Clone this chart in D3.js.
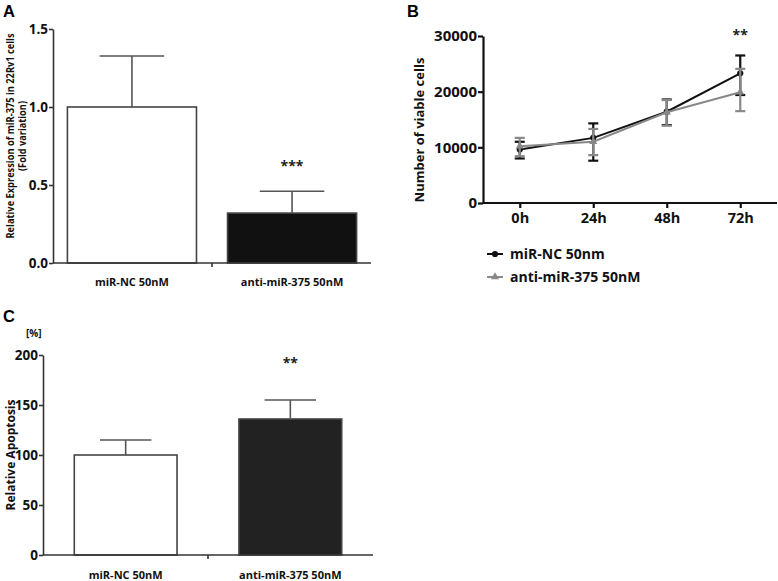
<!DOCTYPE html>
<html><head><meta charset="utf-8">
<script src="https://cdn.jsdelivr.net/npm/d3@7"></script>
<style>body{margin:0;background:#fff}svg{display:block;font-family:"Open Sans",sans-serif}</style>
</head><body>
<svg id="c" width="778" height="581"></svg>
<script>
// Panel A data
const catsA = ["miR-NC 50nM", "anti-miR-375 50nM"];
const meanA = [1.0, 0.32];
const errTopA = [1.327, 0.46];
const ticksA = [0, 0.5, 1.0, 1.5];
// Panel B data
const timesB = ["0h", "24h", "48h", "72h"];
const ncMean = [9600, 11700, 16400, 23300];
const ncLow = [8000, 7600, 14000, 19400];
const ncHigh = [11000, 14300, 18600, 26500];
const antiMean = [10200, 11000, 16300, 19900];
const antiLow = [8400, 8600, 13900, 16500];
const antiHigh = [11700, 13300, 18500, 24100];
const ticksB = [0, 10000, 20000, 30000];
const seriesNames = ["miR-NC 50nm", "anti-miR-375 50nM"];
// Panel C data
const catsC = ["miR-NC 50nM", "anti-miR-375 50nM"];
const meanC = [100, 136];
const errTopC = [115, 155];
const ticksC = [0, 50, 100, 150, 200];

const svg = d3.select("#c");
const axCol = "#333";
const letterFont = '"Liberation Sans",Arial,sans-serif';

function styleAxis(g, w) {
  g.selectAll(".domain").attr("stroke", axCol).attr("stroke-width", w);
  g.selectAll(".tick line").attr("stroke", axCol).attr("stroke-width", w);
  g.selectAll(".tick text").attr("fill", "#111").attr("font-family", '"Open Sans",sans-serif');
}

function barPanel(opt) {
  const g = svg.append("g");
  const y = d3.scaleLinear().domain(opt.ydom).range(opt.yr);
  const x = d3.scaleBand().domain(opt.cats).range(opt.xr).paddingInner(opt.pi).paddingOuter(opt.po);
  g.selectAll("rect.bar").data(opt.cats).join("rect")
    .attr("x", d => x(d)).attr("width", x.bandwidth())
    .attr("y", (d, i) => y(opt.mean[i])).attr("height", (d, i) => y(0) - y(opt.mean[i]))
    .attr("fill", (d, i) => opt.fills[i]).attr("stroke", "#444").attr("stroke-width", 1.6);
  opt.cats.forEach((c, i) => {
    const cx = x(c) + x.bandwidth() / 2, hw = x.bandwidth() / 4;
    g.append("line").attr("x1", cx).attr("x2", cx).attr("y1", y(opt.mean[i])).attr("y2", y(opt.err[i]))
      .attr("stroke", "#555").attr("stroke-width", 1.6);
    g.append("line").attr("x1", cx - hw).attr("x2", cx + hw).attr("y1", y(opt.err[i])).attr("y2", y(opt.err[i]))
      .attr("stroke", "#555").attr("stroke-width", 1.6);
  });
  const ya = g.append("g").attr("transform", `translate(${opt.xr[0]},0)`)
    .call(d3.axisLeft(y).tickValues(opt.ticks).tickFormat(opt.fmt).tickSize(4).tickPadding(1).tickSizeOuter(0));
  ya.selectAll(".tick text").attr("font-size", opt.tfs).attr("font-weight", 700);
  styleAxis(ya, 1.6);
  const xa = g.append("g");
  xa.append("line").attr("x1", opt.xr[0]).attr("x2", opt.xr[1]).attr("y1", y(0)).attr("y2", y(0))
    .attr("stroke", axCol).attr("stroke-width", 1.6);
  const mid = (x(opt.cats[0]) + x.bandwidth() + x(opt.cats[1])) / 2;
  xa.append("line").attr("x1", mid).attr("x2", mid).attr("y1", y(0)).attr("y2", y(0) + 4)
    .attr("stroke", axCol).attr("stroke-width", 1.6);
  opt.cats.forEach(c => {
    xa.append("text").attr("x", x(c) + x.bandwidth() / 2).attr("y", opt.catY).attr("text-anchor", "middle")
      .attr("font-size", 11).attr("font-weight", 700).attr("fill", "#111").text(c);
  });
  g.append("text").attr("x", x(opt.cats[1]) + x.bandwidth() / 2).attr("y", opt.starY).attr("text-anchor", "middle")
    .attr("font-size", 14).attr("font-weight", 700).attr("fill", "#222").text(opt.star);
  return {x, y, g};
}

// Panel A
barPanel({cats: catsA, mean: meanA, err: errTopA, ydom: [0, 1.5], yr: [263, 29], xr: [53, 371],
  pi: 0.194, po: 0.09, ticks: ticksA, fmt: d3.format(".1f"), tfs: 13.5, fills: ["#fff", "#111"],
  catY: 286, starY: 171, star: "***"});
svg.append("text").attr("x", 3).attr("y", 17).attr("font-family", letterFont).attr("font-size", 16.5).attr("font-weight", 700).text("A");
const yl = svg.append("text").attr("transform", "translate(14,136) rotate(-90)").attr("text-anchor", "middle")
  .attr("font-size", 10).attr("font-weight", 700).attr("fill", "#111");
yl.append("tspan").attr("x", 0).attr("dy", 0).attr("textLength", 205).attr("lengthAdjust", "spacingAndGlyphs")
  .text("Relative Expression of miR-375 in 22Rv1 cells");
yl.append("tspan").attr("x", 0).attr("dy", 12).attr("textLength", 70).attr("lengthAdjust", "spacingAndGlyphs")
  .text("(Fold variation)");

// Panel C
barPanel({cats: catsC, mean: meanC, err: errTopC, ydom: [0, 200], yr: [555, 355], xr: [43, 373],
  pi: 0.376, po: 0.19, ticks: ticksC, fmt: d3.format("d"), tfs: 13.5, fills: ["#fff", "#222"],
  catY: 579, starY: 368, star: "**"});
svg.append("text").attr("x", 3).attr("y", 322).attr("font-family", letterFont).attr("font-size", 16.5).attr("font-weight", 700).text("C");
svg.append("text").attr("x", 26).attr("y", 337).attr("font-size", 10).attr("font-weight", 700).attr("fill", "#111").text("[%]");
svg.append("text").attr("transform", "translate(15,455) rotate(-90)").attr("text-anchor", "middle")
  .attr("font-size", 12).attr("font-weight", 700).attr("fill", "#111").text("Relative Apoptosis");

// Panel B
const gB = svg.append("g");
const xB = d3.scalePoint().domain(timesB).range([483, 777]).padding(0.5);
const yB = d3.scaleLinear().domain([0, 30000]).range([203, 36]);
const yaB = gB.append("g").attr("transform", "translate(483,0)")
  .call(d3.axisLeft(yB).tickValues(ticksB).tickFormat(d3.format("d")).tickSize(5).tickPadding(1).tickSizeOuter(0));
yaB.selectAll(".tick text").attr("font-size", 15).attr("font-weight", 700);
styleAxis(yaB, 2.2);
yaB.selectAll(".domain").attr("stroke", "#111");
yaB.selectAll(".tick line").attr("stroke", "#111");
const xaB = gB.append("g").attr("transform", "translate(0,203)")
  .call(d3.axisBottom(xB).tickSize(5).tickPadding(5).tickSizeOuter(0));
xaB.selectAll(".tick text").attr("font-size", 14.5).attr("font-weight", 700);
styleAxis(xaB, 2.2);
xaB.selectAll(".domain").attr("stroke", "#111").attr("d", "M483,0H777");
xaB.selectAll(".tick line").attr("stroke", "#111");

const series = [
  {name: seriesNames[0], mean: ncMean, lo: ncLow, hi: ncHigh, col: "#111", shape: "circle"},
  {name: seriesNames[1], mean: antiMean, lo: antiLow, hi: antiHigh, col: "#888", shape: "tri"}
];
const line = d3.line().x((d, i) => xB(timesB[i])).y(d => yB(d));
series.forEach(s => {
  gB.append("path").attr("d", line(s.mean)).attr("fill", "none").attr("stroke", s.col).attr("stroke-width", 2);
  timesB.forEach((t, i) => {
    const cx = xB(t);
    gB.append("line").attr("x1", cx).attr("x2", cx).attr("y1", yB(s.lo[i])).attr("y2", yB(s.hi[i]))
      .attr("stroke", s.col).attr("stroke-width", 2.2);
    [s.lo[i], s.hi[i]].forEach(v => gB.append("line").attr("x1", cx - 5).attr("x2", cx + 5)
      .attr("y1", yB(v)).attr("y2", yB(v)).attr("stroke", s.col).attr("stroke-width", 2.2));
  });
  gB.selectAll(null).data(s.mean).join("path")
    .attr("transform", (d, i) => `translate(${xB(timesB[i])},${yB(d)})`)
    .attr("d", d3.symbol().type(s.shape === "circle" ? d3.symbolCircle : d3.symbolTriangle).size(s.shape === "circle" ? 30 : 28))
    .attr("fill", s.col);
});
gB.append("text").attr("x", xB("72h")).attr("y", 40).attr("text-anchor", "middle")
  .attr("font-size", 14).attr("font-weight", 700).attr("fill", "#222").text("**");
svg.append("text").attr("x", 407).attr("y", 17).attr("font-family", letterFont).attr("font-size", 16.5).attr("font-weight", 700).text("B");
svg.append("text").attr("transform", "translate(424,130) rotate(-90)").attr("text-anchor", "middle")
  .attr("font-size", 13).attr("font-weight", 700).attr("fill", "#111").text("Number of viable cells");
series.forEach((s, i) => {
  const ly = 254 + i * 23;
  svg.append("line").attr("x1", 487).attr("x2", 503).attr("y1", ly).attr("y2", ly).attr("stroke", s.col).attr("stroke-width", 2);
  svg.append("path").attr("transform", `translate(495,${ly})`)
    .attr("d", d3.symbol().type(s.shape === "circle" ? d3.symbolCircle : d3.symbolTriangle).size(s.shape === "circle" ? 30 : 28))
    .attr("fill", s.col);
  svg.append("text").attr("x", 510).attr("y", ly + 5).attr("font-size", 14).attr("font-weight", 700).attr("fill", "#111").text(s.name);
});
</script>
</body></html>
